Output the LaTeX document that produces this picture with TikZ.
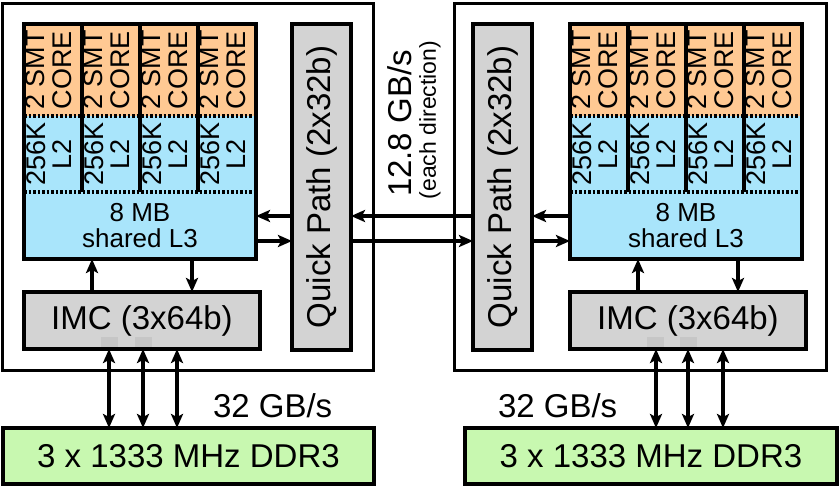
\documentclass[tikz,border=0pt]{standalone}
\usepackage{fontspec}
\setmainfont{Liberation Sans}
\usepackage{graphicx}
\usetikzlibrary{arrows.meta}
\definecolor{coreor}{HTML}{FFC993}
\definecolor{cacheblue}{HTML}{A9E5FB}
\definecolor{memgreen}{HTML}{C8F8B0}
\definecolor{boxgray}{HTML}{D3D3D3}
\definecolor{padgray}{HTML}{C6C6C6}
\begin{document}
\begin{tikzpicture}[x=1pt,y=-1pt,
  every node/.style={inner sep=0pt,outer sep=0pt},
  socket/.style={draw,line width=3pt,minimum height=367pt},
  blkline/.style={line width=4pt},
  dotline/.style={line width=4pt,dash pattern=on 2.5pt off 2pt},
  corecell/.style={fill=coreor,minimum width=58pt,minimum height=92pt,
    font=\fontsize{27}{27}\selectfont},
  ltwocell/.style={fill=cacheblue,minimum width=58pt,minimum height=76pt,
    font=\fontsize{27}{26}\selectfont},
  lthree/.style={fill=cacheblue,minimum width=232pt,minimum height=67pt,
    align=center,font=\fontsize{26}{26}\selectfont},
  imcbox/.style={draw,line width=4pt,fill=boxgray,minimum width=236pt,
    minimum height=57pt,font=\fontsize{33}{36}\selectfont},
  qpbox/.style={draw,line width=4pt,fill=boxgray,minimum width=59pt,
    minimum height=326pt,font=\fontsize{33}{36}\selectfont},
  ddrbox/.style={draw,line width=4pt,fill=memgreen,minimum height=56pt,
    font=\fontsize{33}{36}\selectfont},
  padsq/.style={fill=padgray,minimum width=17pt,minimum height=10pt},
  bigtxt/.style={font=\fontsize{33}{36}\selectfont},
  arr/.style={line width=3.5pt,-{Stealth[length=14pt,width=12pt,inset=3pt]}},
  darr/.style={line width=3.5pt,{Stealth[length=14pt,width=12pt,inset=3pt]}-{Stealth[length=14pt,width=12pt,inset=3pt]}}
]
\useasboundingbox (0,0) rectangle (839,491);

% sockets
\node[socket,minimum width=371pt] (sockL) at (187.5,186.5) {};
\node[socket,minimum width=372pt] (sockR) at (640,186.5) {};

% quick path boxes
\node[qpbox] (qpL) at (321.5,187) {\rotatebox{90}{Quick Path (2x32b)}};
\node[qpbox] (qpR) at (502.5,187) {\rotatebox{90}{Quick Path (2x32b)}};

% cores, caches, IMC
\foreach \s/\ox in {L/0,R/546}{
  \foreach \i in {1,...,4}{
    \node[corecell] (core\s\i) at ({53+\ox+58*(\i-1)},70)
      {\rotatebox{90}{\begin{tabular}{@{}c@{}}2 SMT\\CORE\end{tabular}}};
    \node[ltwocell] (ltwo\s\i) at ({53+\ox+58*(\i-1)},154)
      {\rotatebox{90}{\begin{tabular}{@{}c@{}}256K\\L2\end{tabular}}};
  }
  \node[lthree] (lthree\s) at ({140+\ox},225.5) {8 MB\\shared L3};
  \foreach \i in {1,2,3}{
    \draw[blkline] (core\s\i.north east) -- (ltwo\s\i.south east);
  }
  \draw[blkline] (core\s1.north west) rectangle (lthree\s.south east);
  \draw[dotline] (core\s1.south west) -- (core\s4.south east);
  \draw[dotline] (ltwo\s1.south west) -- (ltwo\s4.south east);
  \node[imcbox] (imc\s) at ({142+\ox},320.5) {IMC (3x64b)};
  \coordinate (up\s) at ({92+\ox},0);
  \coordinate (dn\s) at ({192+\ox},0);
  \draw[arr] (imc\s.north -| up\s) -- (lthree\s.south -| up\s);
  \draw[arr] (lthree\s.south -| dn\s) -- (imc\s.north -| dn\s);
}

% pads on IMC
\node[padsq] (padL1) at (109.5,342) {};
\node[padsq] (padL2) at (143.5,342) {};
\node[padsq] (padR1) at (655,342) {};
\node[padsq] (padR2) at (688.5,342) {};

% memory
\node[ddrbox,minimum width=371pt] (ddrL) at (188.5,456) {3 x 1333 MHz DDR3};
\node[ddrbox,minimum width=372pt] (ddrR) at (651,456) {3 x 1333 MHz DDR3};

\coordinate (mL1) at (109,0);
\coordinate (mL2) at (143,0);
\coordinate (mL3) at (177,0);
\coordinate (mR1) at (656,0);
\coordinate (mR2) at (688,0);
\coordinate (mR3) at (723,0);
\foreach \c in {mL1,mL2,mL3}{
  \draw[darr] (imcL.south -| \c) -- (ddrL.north -| \c);
}
\foreach \c in {mR1,mR2,mR3}{
  \draw[darr] (imcR.south -| \c) -- (ddrR.north -| \c);
}

\node[bigtxt,anchor=base west] (bwL) at (213,417) {32 GB/s};
\node[bigtxt,anchor=base west] (bwR) at (498,417) {32 GB/s};

% QPI links
\coordinate (rowA) at (0,216);
\coordinate (rowB) at (0,241);
\draw[arr] (lthreeR.west |- rowA) -- (qpR.east |- rowA);
\draw[arr] (qpR.west |- rowA) -- (qpL.east |- rowA);
\draw[arr] (qpL.west |- rowA) -- (lthreeL.east |- rowA);
\draw[arr] (lthreeL.east |- rowB) -- (qpL.west |- rowB);
\draw[arr] (qpL.east |- rowB) -- (qpR.west |- rowB);
\draw[arr] (qpR.east |- rowB) -- (lthreeR.west |- rowB);

\node[bigtxt,rotate=90] (rate) at (400,123.5) {12.8 GB/s};
\node[font=\fontsize{23}{25}\selectfont,rotate=90] (ratenote) at (430,120) {(each direction)};
\end{tikzpicture}
\end{document}
